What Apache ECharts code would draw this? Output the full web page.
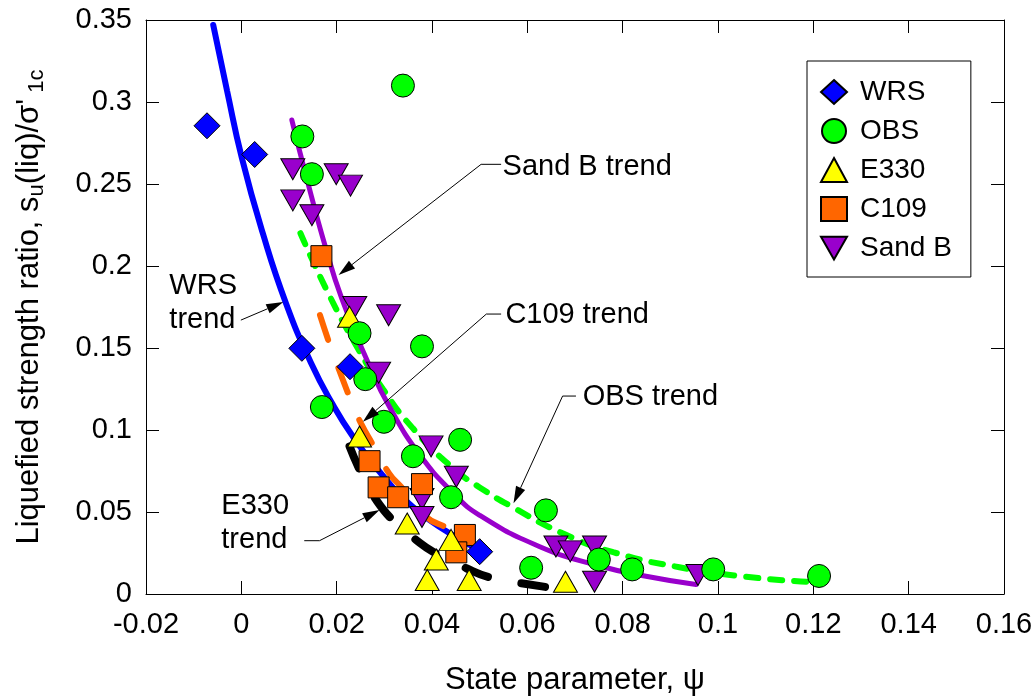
<!DOCTYPE html>
<html>
<head>
<meta charset="utf-8">
<script src="https://cdn.jsdelivr.net/npm/echarts@6/dist/echarts.min.js"></script>
<style>
  html, body { margin: 0; padding: 0; background: #fff; }
  #myChart { width: 1036px; height: 696px; }
</style>
</head>
<body>
<div id="myChart"></div>
<script>
const FONT = '"Liberation Sans", Arial, sans-serif';

// measured points (state parameter, strength ratio)
const wrsX = [-0.0072, 0.0028, 0.0127, 0.0228, 0.050];
const wrsY = [0.2855, 0.268, 0.1498, 0.1386, 0.0258];

const obsX = [0.0339, 0.0128, 0.0148, 0.0248, 0.0379, 0.0260, 0.0169, 0.0299, 0.0459, 0.0360, 0.0440, 0.0608, 0.0639, 0.0750, 0.0820, 0.0990, 0.1212];
const obsY = [0.310, 0.279, 0.256, 0.159, 0.151, 0.131, 0.114, 0.105, 0.094, 0.084, 0.059, 0.016, 0.051, 0.021, 0.015, 0.015, 0.011];

const e330X = [0.0227, 0.0248, 0.0348, 0.0440, 0.0409, 0.0390, 0.0478, 0.0680];
const e330Y = [0.169, 0.096, 0.043, 0.033, 0.021, 0.0085, 0.0085, 0.0075];

const c109X = [0.0168, 0.0269, 0.0288, 0.0329, 0.0379, 0.0469, 0.0451];
const c109Y = [0.206, 0.081, 0.065, 0.059, 0.067, 0.036, 0.0254];

const sandBX = [0.0108, 0.0199, 0.0229, 0.0108, 0.0148, 0.0238, 0.0309, 0.0288, 0.0398, 0.0451, 0.0379, 0.0379, 0.066, 0.069, 0.0741, 0.0741, 0.0958];
const sandBY = [0.259, 0.256, 0.249, 0.240, 0.231, 0.175, 0.170, 0.135, 0.090, 0.0715, 0.058, 0.047, 0.029, 0.026, 0.029, 0.0075, 0.0116];

// trend curves
const wrsTrendX = [-0.0059, -0.003, 0.0001, 0.0045, 0.0094, 0.0146, 0.0191, 0.0234, 0.029, 0.036, 0.0437, 0.050];
const wrsTrendY = [0.347, 0.307, 0.266, 0.220, 0.177, 0.141, 0.116, 0.096, 0.0745, 0.053, 0.037, 0.0268];

const sandBTrendX = [0.0106, 0.0134, 0.0176, 0.0211, 0.0269, 0.0311, 0.0374, 0.0443, 0.050, 0.0625, 0.0744, 0.0849, 0.0954];
const sandBTrendY = [0.289, 0.257, 0.212, 0.180, 0.139, 0.114, 0.085, 0.062, 0.048, 0.029, 0.0177, 0.0108, 0.0058];

const obsTrendX = [0.0124, 0.0183, 0.0248, 0.0297, 0.036, 0.0443, 0.050, 0.0569, 0.0674, 0.078, 0.0919, 0.1059, 0.1185];
const obsTrendY = [0.220, 0.183, 0.148, 0.125, 0.101, 0.077, 0.065, 0.053, 0.037, 0.0255, 0.0163, 0.0105, 0.0075];

const c109TrendX = [0.0165, 0.0188, 0.0206, 0.023, 0.0251, 0.0276, 0.031, 0.0335, 0.0388, 0.0437, 0.046];
const c109TrendY = [0.170, 0.150, 0.136, 0.118, 0.104, 0.091, 0.0736, 0.0654, 0.047, 0.039, 0.031];

const e330TrendX = [0.0227, 0.0255, 0.0283, 0.0321, 0.0367, 0.0402, 0.0472, 0.0527, 0.0584, 0.065];
const e330TrendY = [0.090, 0.0715, 0.0573, 0.0441, 0.0329, 0.0258, 0.0157, 0.0096, 0.0067, 0.0038];

// callouts: text anchor (left, middle) and leader path ending at arrow tip
const notes = [
  { text: 'WRS\ntrend', at: [-0.0151, 0.1777], path: [[-0.0001, 0.167], [0.0088, 0.178]] },
  { text: 'Sand B trend', at: [0.0548, 0.2606], path: [[0.0545, 0.262], [0.0503, 0.262], [0.0204, 0.1945]] },
  { text: 'C109 trend', at: [0.0554, 0.170], path: [[0.0545, 0.1707], [0.0514, 0.1707], [0.0255, 0.105]] },
  { text: 'OBS trend', at: [0.0716, 0.1203], path: [[0.0702, 0.1207], [0.0674, 0.1207], [0.0571, 0.0553]] },
  { text: 'E330\ntrend', at: [-0.0042, 0.0433], path: [[0.0132, 0.0325], [0.0164, 0.0325], [0.029, 0.0512]] },
];

function zip(xs, ys) {
  return xs.map(function (x, i) { return [x, ys[i]]; });
}

let myChart = echarts.init(document.getElementById('myChart'));

function trend(name, xs, ys, color, width, dash) {
  return {
    name: name,
    type: 'line',
    data: zip(xs, ys),
    smooth: 0.5,
    showSymbol: false,
    silent: true,
    z: 2,
    lineStyle: { color: color, width: width, type: dash || 'solid', cap: 'round' },
  };
}

function points(name, xs, ys, symbol, size, color, rotate) {
  return {
    name: name,
    type: 'scatter',
    data: zip(xs, ys),
    symbol: symbol,
    symbolSize: size,
    symbolRotate: rotate || 0,
    z: 3,
    itemStyle: { color: color, borderColor: '#000', borderWidth: 1, opacity: 1 },
  };
}

const axisCommon = {
  type: 'value',
  axisLine: { show: true, onZero: false, lineStyle: { color: '#000', width: 1 } },
  axisTick: { show: true, inside: true, length: 13, lineStyle: { color: '#000' } },
  splitLine: { show: false },
};

let myChartOption = {
  animation: false,
  backgroundColor: '#fff',
  grid: { left: 146, right: 32, top: 20, bottom: 102, outerBoundsMode: 'none' },
  xAxis: [
    Object.assign({}, axisCommon, {
      min: -0.02, max: 0.16, interval: 0.02,
      position: 'bottom',
      name: 'State parameter, \u03c8',
      nameLocation: 'middle',
      nameGap: 71,
      nameTextStyle: { fontSize: 31, fontFamily: FONT, color: '#000' },
      axisLabel: { fontSize: 29, fontFamily: FONT, color: '#000', margin: 16 },
    }),
    Object.assign({}, axisCommon, {
      min: -0.02, max: 0.16, interval: 0.02,
      position: 'top',
      axisLabel: { show: false },
    }),
  ],
  yAxis: [
    Object.assign({}, axisCommon, {
      min: 0, max: 0.35, interval: 0.05,
      position: 'left',
      name: "{n|Liquefied strength ratio, s}{s|u}{n|(liq)/\u03c3'}{s| 1c}",
      nameLocation: 'middle',
      nameGap: 98,
      nameTextStyle: {
        color: '#000',
        rich: {
          n: { fontSize: 31, fontFamily: FONT, color: '#000', lineHeight: 38 },
          s: { fontSize: 22, fontFamily: FONT, color: '#000', lineHeight: 22, padding: [16, 0, 0, 0] },
        },
      },
      axisLabel: { fontSize: 29, fontFamily: FONT, color: '#000', margin: 14 },
    }),
    Object.assign({}, axisCommon, {
      min: 0, max: 0.35, interval: 0.05,
      position: 'right',
      axisLabel: { show: false },
    }),
  ],
  legend: {
    data: ['WRS', 'OBS', 'E330', 'C109', { name: 'Sand B', icon: 'path://M0,0L24,0L12,21Z' }],
    orient: 'vertical',
    left: 807,
    top: 61,
    padding: [17, 19, 15, 13],
    itemGap: 11,
    itemWidth: 26,
    itemHeight: 24,
    borderColor: '#000',
    borderWidth: 1,
    selectedMode: false,
    textStyle: { fontSize: 28, fontFamily: FONT, color: '#000', lineHeight: 28, padding: [0, 0, 0, 8] },
  },
  series: [
    trend('OBS trend', obsTrendX, obsTrendY, '#00ff00', 6, [12, 12]),
    trend('Sand B trend', sandBTrendX, sandBTrendY, '#9900cc', 5),
    trend('WRS trend', wrsTrendX, wrsTrendY, '#0000ff', 6),
    trend('C109 trend', c109TrendX, c109TrendY, '#ff6600', 6, [26, 30]),
    trend('E330 trend', e330TrendX, e330TrendY, '#000000', 8, [24, 34]),
    points('Sand B', sandBX, sandBY, 'triangle', [24, 21], '#9900cc', 180),
    points('C109', c109X, c109Y, 'rect', 21, '#ff6600'),
    points('E330', e330X, e330Y, 'triangle', [24, 21], '#ffff00'),
    points('OBS', obsX, obsY, 'circle', 23, '#00ff00'),
    points('WRS', wrsX, wrsY, 'diamond', 26, '#0000ff'),
  ],
};

myChart.setOption(myChartOption);

// callout text, leader lines and arrow heads, placed from data coordinates
function px(p) {
  return myChart.convertToPixel({ gridIndex: 0 }, p);
}

let elems = [];
notes.forEach(function (note) {
  let at = px(note.at);
  elems.push({
    type: 'text',
    x: at[0],
    y: at[1],
    style: {
      text: note.text,
      font: '29px ' + FONT,
      fill: '#000',
      align: 'left',
      verticalAlign: 'middle',
      lineHeight: 34,
    },
    z: 10,
  });
  let pts = note.path.map(px);
  let tip = pts[pts.length - 1];
  let prev = pts[pts.length - 2];
  let dx = tip[0] - prev[0];
  let dy = tip[1] - prev[1];
  let len = Math.sqrt(dx * dx + dy * dy);
  let ux = dx / len;
  let uy = dy / len;
  let head = 17;
  let half = 5;
  let bx = tip[0] - ux * head;
  let by = tip[1] - uy * head;
  let linePts = pts.slice(0, -1).concat([[bx, by]]);
  elems.push({
    type: 'polyline',
    shape: { points: linePts },
    style: { stroke: '#000', lineWidth: 1, fill: null },
    z: 10,
  });
  elems.push({
    type: 'polygon',
    shape: {
      points: [
        tip,
        [bx - uy * half, by + ux * half],
        [bx + uy * half, by - ux * half],
      ],
    },
    style: { fill: '#000' },
    z: 10,
  });
});

myChart.setOption({ graphic: elems });
</script>
</body>
</html>
